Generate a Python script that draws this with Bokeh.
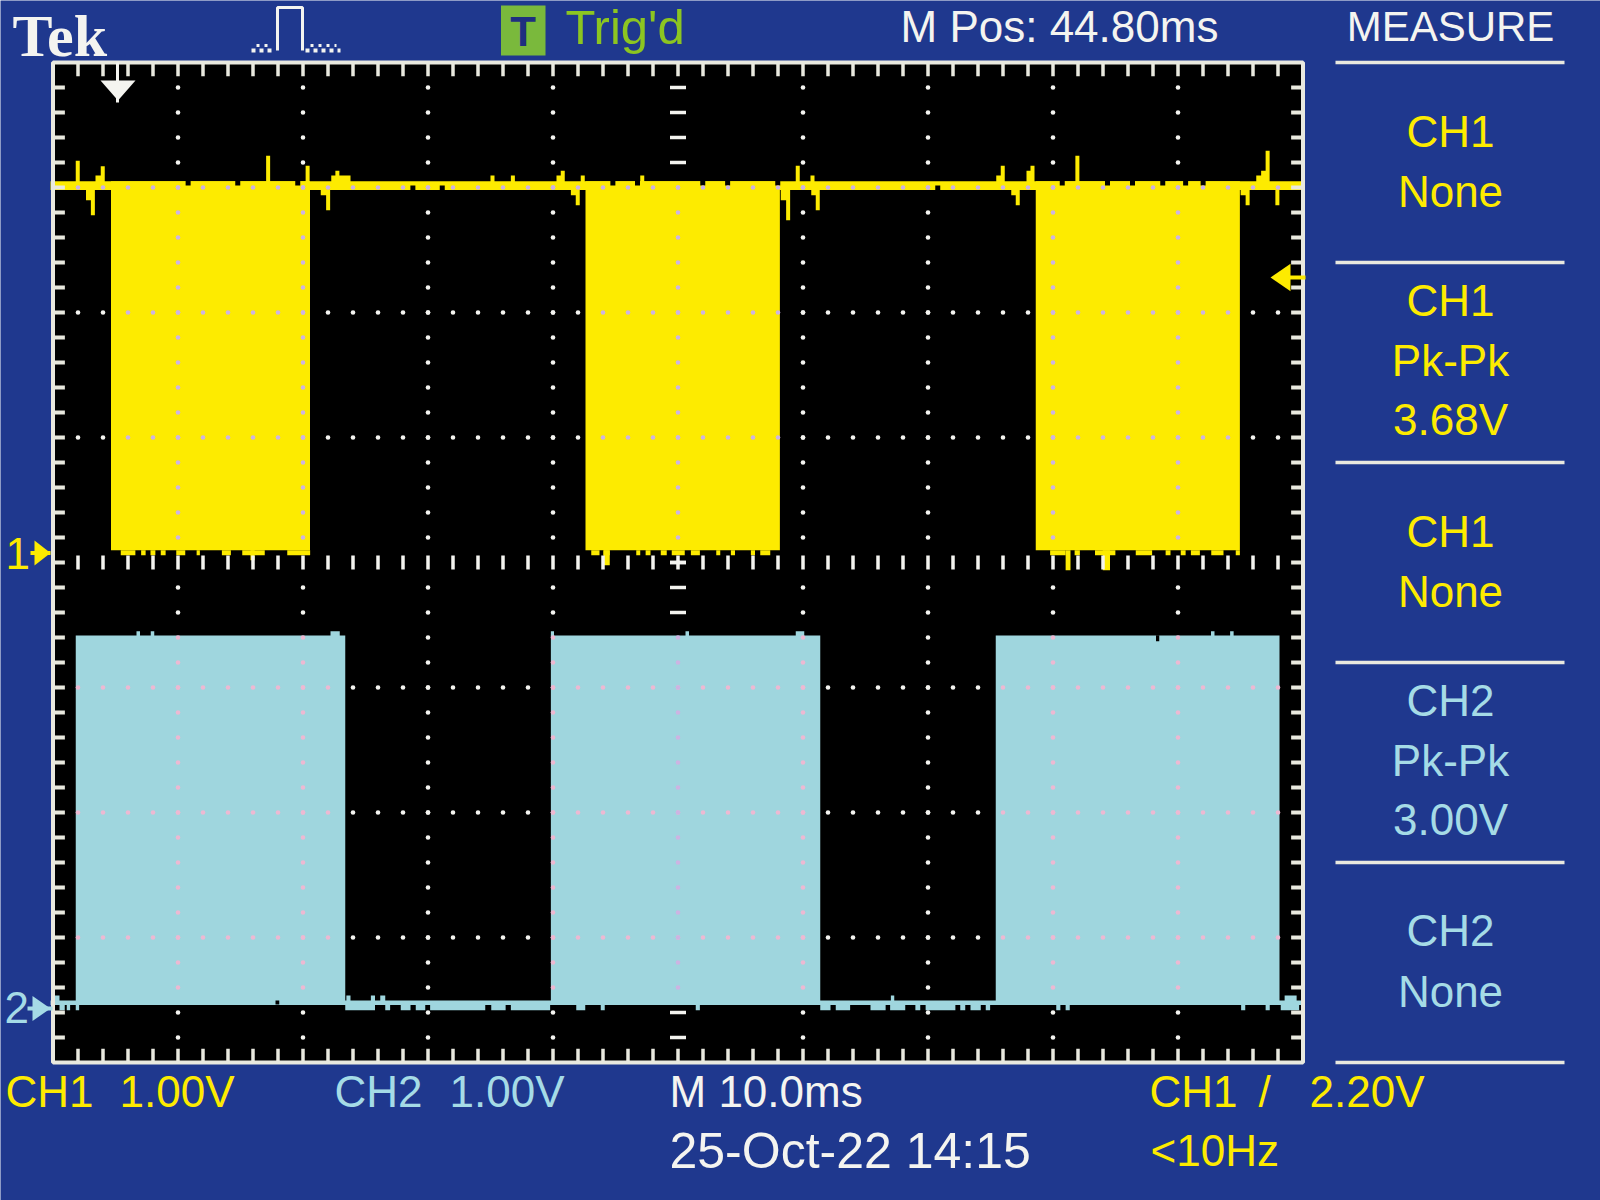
from bokeh.plotting import figure
from bokeh.models import Range1d
from bokeh.core.properties import value
from bokeh.embed import file_html
from bokeh.resources import INLINE
import numpy as np

# ---------- colours
BLUE = "#1f388e"; YEL = "#fdeb00"; CYA = "#9fd6de"; WHITE = "#f4f4f0"; FRAME = "#e9e9df"
LILAC = "#cdb4e2"; PINK = "#edb9d2"; GREEN = "#7ab93c"; TGREEN = "#8cc521"; CYT = "#a5dbe6"

# ---------- data: time in ms from screen centre, level in divisions from screen centre
ch1_block_start = [-45.36, -7.40, 28.62]
ch1_block_end = [-29.44, 8.15, 44.95]
ch1_block_low = 0.098
ch1_high = 3.05
ch1_band_low = 2.98

ch1_up_x = [-48.02, -46.02, -32.79, -29.63, -27.25, -14.84, -13.21, -9.22, -7.62, -2.86, 9.58, 10.76, 25.98, 28.36, 31.95, 47.17]
ch1_up_top = [3.214, 3.17, 3.254, 3.174, 3.134, 3.096, 3.096, 3.134, 3.096, 3.096, 3.174, 3.096, 3.174, 3.174, 3.254, 3.294]
ch1_shoulder_x0 = [-46.6, -27.74, -9.72, 25.46, 27.88, 46.26, 46.65]
ch1_shoulder_x1 = [-46.04, -26.2, -9.24, 25.96, 28.36, 47.16, 47.16]
ch1_shoulder_top = [3.096, 3.096, 3.096, 3.096, 3.134, 3.096, 3.134]

ch1_down_x = [-46.81, -27.99, -8.02, 8.81, 11.18, 27.18, 45.57, 47.95]
ch1_down_bottom = [2.778, 2.818, 2.858, 2.738, 2.818, 2.858, 2.858, 2.858]
ch1_dshoulder_x0 = [-47.36, -28.58, -8.57, 8.22, 10.66, 26.66, 45.01]
ch1_dshoulder_x1 = [-46.81, -27.99, -8.02, 8.81, 11.18, 27.18, 45.57]
ch1_dshoulder_bottom = [2.898, 2.938, 2.938, 2.898, 2.938, 2.938, 2.938]

ch1_notch_top_x = [-39.19, -35.22, -30.42, -5.21, -3.24, 1.98, 3.97, 7.98, 30.74, 34.36, 36.36, 38.78, 40.61, 42.01]
ch1_notch_low_x = [-21.21, -18.86, 20.78]

ch1_teeth_x0 = [-44.58, -42.95, -42.2, -41.38, -40.14, -38.51, -36.49, -34.86, -31.26,
                -6.94, -5.96, -3.34, -2.59, -1.38, -0.5, 1.03, 3.06, 4.23, 5.83, 6.58,
                29.77, 31.73, 33.36, 36.62, 39.01, 40.22, 41.03, 42.66, 44.62]
ch1_teeth_x1 = [-43.41, -42.59, -41.81, -40.99, -39.42, -38.25, -35.77, -33.06, -29.43,
                -6.28, -5.46, -3.02, -2.2, -0.9, 0.54, 1.75, 3.38, 4.56, 6.16, 7.38,
                31.01, 32.15, 34.99, 37.93, 39.4, 40.61, 41.75, 43.64, 44.95]
ch1_teeth_low = 0.058
ch1_deep_x0 = [-34.2, -5.96, 31.01, 33.98]
ch1_deep_x1 = [-33.87, -5.46, 31.4, 34.56]
ch1_deep_low = [0.018, -0.022, -0.062, -0.062]

ch2_block_start = [-48.18, -10.17, 25.42]
ch2_block_end = [-26.62, 11.38, 48.12]
ch2_high = -0.584
ch2_low = -3.54
ch2_band_top = -3.504

ch2_up_x0 = [-43.32, -42.18, -27.8, -10.17, 0.6, 9.42, 42.64, 44.17]
ch2_up_x1 = [-43.04, -41.9, -27.06, -9.92, 0.88, 10.1, 42.92, 44.45]
ch2_up_top = -0.55
ch2_teeth_x0 = [-49.48, -48.9, -48.18, -26.62, -23.42, -22.18, -20.98, -19.83, -14.94, -13.37, -8.14, -6.18,
                1.42, 11.38, 12.62, 15.4, 16.97, 18.99, 19.81, 22.58, 23.4, 24.62, 30.26, 31.01, 45.05, 47.01, 48.22]
ch2_teeth_x1 = [-49.06, -48.63, -47.91, -24.24, -23.03, -21.4, -20.22, -15.42, -13.79, -10.23, -7.42, -5.86,
                1.75, 12.2, 13.77, 16.61, 18.18, 19.38, 22.19, 22.98, 24.22, 24.97, 30.59, 31.34, 45.38, 47.34, 49.69]
ch2_teeth_low = -3.582
ch2_bump_x0 = [-50.0, -26.53, -24.57, -23.82, 17.03, 48.53]
ch2_bump_x1 = [-49.48, -26.2, -24.24, -23.42, 17.3, 49.49]
ch2_bump_top = -3.464

ch1_ground = 0.076
ch2_ground = -3.568
trigger_level = 2.28
trigger_time = -44.84

# ---------- readout texts
panel_rows = [("CH1", 131, YEL), ("None", 191, YEL), ("CH1", 300, YEL), ("Pk-Pk", 360, YEL), ("3.68V", 419, YEL),
              ("CH1", 531, YEL), ("None", 591, YEL), ("CH2", 700, CYT), ("Pk-Pk", 760, CYT), ("3.00V", 819, CYT),
              ("CH2", 930, CYT), ("None", 991, CYT)]
bottom_texts = [("CH1", 5, 1091, YEL), ("1.00V", 119, 1091, YEL), ("CH2", 334, 1091, CYT), ("1.00V", 449, 1091, CYT),
                ("M 10.0ms", 669, 1091, WHITE), ("25-Oct-22 14:15", 669, 1150, WHITE),
                ("CH1", 1149, 1091, YEL), ("/", 1258, 1091, YEL), ("2.20V", 1309, 1091, YEL), ("<10Hz", 1150, 1150, YEL)]

# ---------- canvas pixel <-> data mapping (the figure fills the page)
W, H = 1600, 1200
def X(px): return (np.asarray(px, dtype=float) - 677.5) / 12.5
def Y(py): return (562 - np.asarray(py, dtype=float)) / 125

p = figure(width=W, height=H, x_range=Range1d(float(X(0)), float(X(W))), y_range=Range1d(float(Y(H)), float(Y(0))),
           x_axis_type=None, y_axis_type=None, toolbar_location=None, output_backend="svg",
           min_border=0, outline_line_color=None, background_fill_color=BLUE, border_fill_color=BLUE)

# screen
p.quad(left=[-50], right=[50], bottom=[-4], top=[4], fill_color="black", line_color=None)

def Q(x0, x1, b, t, c):
    n = len(x0)
    b = list(b) if np.ndim(b) else [b] * n
    t = list(t) if np.ndim(t) else [t] * n
    p.quad(left=list(x0), right=list(x1), bottom=b, top=t, fill_color=c, line_color=None)

# channel 1 trace
Q([-50.2], [50], ch1_band_low, ch1_high, YEL)
Q(ch1_block_start, ch1_block_end, ch1_block_low, ch1_high, YEL)
Q(ch1_teeth_x0, ch1_teeth_x1, ch1_teeth_low, ch1_block_low, YEL)
Q(ch1_deep_x0, ch1_deep_x1, ch1_deep_low, ch1_block_low, YEL)
Q(ch1_shoulder_x0, ch1_shoulder_x1, ch1_high - 0.01, ch1_shoulder_top, YEL)
Q(np.array(ch1_up_x) - .16, np.array(ch1_up_x) + .16, ch1_high - 0.01, ch1_up_top, YEL)
Q(ch1_dshoulder_x0, ch1_dshoulder_x1, ch1_dshoulder_bottom, ch1_band_low + 0.01, YEL)
Q(np.array(ch1_down_x) - .16, np.array(ch1_down_x) + .16, ch1_down_bottom, ch1_band_low + 0.01, YEL)
Q(np.array(ch1_notch_top_x) - .2, np.array(ch1_notch_top_x) + .2, 3.016, ch1_high + .002, "black")
Q(np.array(ch1_notch_low_x) - .2, np.array(ch1_notch_low_x) + .2, ch1_band_low - .002, 3.016, "black")

# channel 2 trace
Q([-50.2], [50], ch2_low, ch2_band_top, CYA)
Q(ch2_block_start, ch2_block_end, ch2_low, ch2_high, CYA)
Q(ch2_up_x0, ch2_up_x1, ch2_high - .01, ch2_up_top, CYA)
Q(ch2_teeth_x0, ch2_teeth_x1, ch2_teeth_low, ch2_low + .005, CYA)
Q(ch2_bump_x0, ch2_bump_x1, ch2_band_top - .005, ch2_bump_top, CYA)
Q([-32.2], [-31.9], ch2_low + .004, ch2_band_top, "black")
Q([38.24], [38.5], -0.63, ch2_high + .002, "black")

# graticule
t_rows = np.arange(-48, 49, 2.0)
d_cols = np.arange(-40, 41, 10.0)
lv = np.round(np.arange(-3.8, 3.81, 0.2), 2)
rows = np.array([-3, -2, -1, 1, 2, 3.0])
gx, gy = np.meshgrid(t_rows, rows)
cx, cy = np.meshgrid(d_cols[d_cols != 0], lv[np.abs(lv) > 1e-6])
dx = np.r_[gx.ravel(), cx.ravel()]
dy = np.r_[gy.ravel(), cy.ravel()]

def inside(x, y, starts, ends, lo, hi):
    m = np.zeros_like(x, dtype=bool)
    for a, b in zip(starts, ends):
        m |= (x >= a) & (x <= b) & (y >= lo) & (y <= hi)
    return m

on_yel = inside(dx, dy, ch1_block_start, ch1_block_end, ch1_block_low, ch1_high) | (dy == 3)
on_cya = inside(dx, dy, ch2_block_start, ch2_block_end, ch2_low, ch2_high)
free = ~(on_yel | on_cya)
p.scatter(dx[free], dy[free], size=4.6, marker="circle", fill_color=WHITE, line_color=None)
p.scatter(dx[on_yel], dy[on_yel], size=4.6, marker="circle", fill_color=LILAC, line_color=None)
p.scatter(dx[on_cya], dy[on_cya], size=4.6, marker="circle", fill_color=PINK, line_color=None)

# central axis ticks
p.segment(t_rows, -0.056, t_rows, 0.056, line_color=WHITE, line_width=3.5)
zero_col = np.zeros_like(lv)
m = inside(zero_col, lv, ch1_block_start, ch1_block_end, ch1_block_low, ch1_high) | inside(zero_col, lv, ch2_block_start, ch2_block_end, ch2_low, ch2_high)
p.segment(zero_col[~m] - .64, lv[~m], zero_col[~m] + .64, lv[~m], line_color=WHITE, line_width=3.5)
p.scatter(zero_col[m], lv[m], size=4.6, marker="circle", fill_color=LILAC, line_color=None)
p.segment([-.64], [0], [.64], [0], line_color=WHITE, line_width=3.5)

# edge ticks
p.segment(t_rows, 3.89, t_rows, 3.99, line_color=FRAME, line_width=3.5)
p.segment(t_rows, -3.99, t_rows, -3.89, line_color=FRAME, line_width=3.5)
p.segment(-49.95, lv, -49.05, lv, line_color=FRAME, line_width=4)
p.segment(49.05, lv, 49.95, lv, line_color=FRAME, line_width=4)

# frame
p.quad(left=[-50], right=[50], bottom=[-4], top=[4], fill_color=None, line_color=FRAME, line_width=4)

# panel separators
sep_y = [62, 262, 462, 662, 862, 1062]
p.segment(X(1335), Y(sep_y), X(1564), Y(sep_y), line_color=FRAME, line_width=3.5)

# markers
p.segment([trigger_time], [4], [trigger_time], [3.68], line_color=WHITE, line_width=3)
p.patch(X([100, 135, 117.5]), Y([80, 80, 100]), fill_color=WHITE, line_color=None)
p.patch(X([1270, 1290, 1290]), [trigger_level, trigger_level + .11, trigger_level - .11], fill_color=YEL, line_color=None)
p.segment(X([1285]), [trigger_level], X([1305]), [trigger_level], line_color=YEL, line_width=4)
p.patch(X([34, 34, 50]), [ch1_ground + .1, ch1_ground - .1, ch1_ground], fill_color=YEL, line_color=None)
p.segment(X([30]), [ch1_ground], X([50]), [ch1_ground], line_color=YEL, line_width=4)
p.patch(X([32, 32, 50]), [ch2_ground + .1, ch2_ground - .1, ch2_ground], fill_color=CYT, line_color=None)
p.segment(X([27]), [ch2_ground], X([52]), [ch2_ground], line_color=CYT, line_width=4)

# trigger-state icon
p.quad(left=X([500.5]), right=X([545]), bottom=Y([55]), top=Y([5]), fill_color=GREEN, line_color=None)
# acquisition pulse icon
p.line(X([277, 277, 302, 302]), Y([50, 7, 7, 50]), line_color=WHITE, line_width=3)
p.segment(X([251, 305]), Y([50, 50]), X([275, 340]), Y([50, 50]), line_color=WHITE, line_width=4, line_dash="4 4")
p.segment(X([256, 310]), Y([45, 45]), X([272, 336]), Y([45, 45]), line_color=WHITE, line_width=3, line_dash="3 5")

LCD = "Liberation Sans"
def T(s, x, y, c, size=44, font=LCD, align="left", style="normal", base="middle"):
    p.text(x=[float(X(x))], y=[float(Y(y))], text=[s], text_color=c, text_font=value(font),
           text_font_size=f"{size}px", text_align=align, text_baseline=base, text_font_style=style)

T("Tek", 12, 35, WHITE, size=60, font="Liberation Serif", style="bold")
T("T", 522.5, 31, "#1f2f80", size=42, align="center", style="bold")
T("Trig'd", 565, 26, TGREEN, size=49)
T("M Pos: 44.80ms", 900, 26, WHITE)
T("MEASURE", 1450, 26, WHITE, align="center", size=42)
T("1", 5, 553, YEL)
T("2", 4, 1007, CYT)
for s, y, c in panel_rows:
    T(s, 1450, y, c, align="center")
for s, x, y, c in bottom_texts:
    T(s, x, y, c, size=50 if s.startswith("25") else 44)

open("out.html", "w").write(file_html(p, INLINE))
